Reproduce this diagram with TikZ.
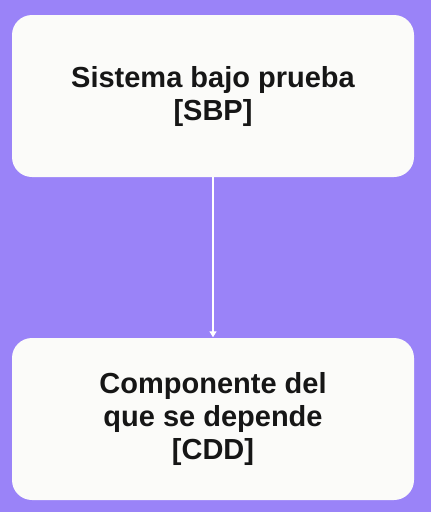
\documentclass[tikz,border=0pt]{standalone}
\usepackage{fontspec}
\setmainfont{Liberation Sans}
\usepackage{tikz}
\usetikzlibrary{arrows.meta}

\definecolor{fondo}{RGB}{154,131,248}
\definecolor{caja}{RGB}{251,251,249}
\definecolor{texto}{RGB}{22,22,22}

\tikzset{
  caja/.style={fill=caja, draw=none, rounded corners=20pt,
               minimum width=402pt, minimum height=162pt, inner sep=0pt,
               align=center, text=texto,
               font=\bfseries\fontsize{29}{33}\selectfont},
  flecha/.style={draw=white, line width=1.3pt,
                 -{Triangle[width=7pt,length=6pt]}, shorten >=0.5pt}
}

\begin{document}
\begin{tikzpicture}[x=1pt,y=-1pt]

\fill[fondo] (0,0) rectangle (431,512);
\useasboundingbox (0,0) rectangle (431,512);

\node[caja] (sbp) at (213,96) {Sistema bajo prueba\\{}[SBP]};
\node[caja] (cdd) at (213,419) {Componente del\\que se depende\\{}[CDD]};

\draw[flecha] (sbp) -- (cdd);
\end{tikzpicture}
\end{document}
